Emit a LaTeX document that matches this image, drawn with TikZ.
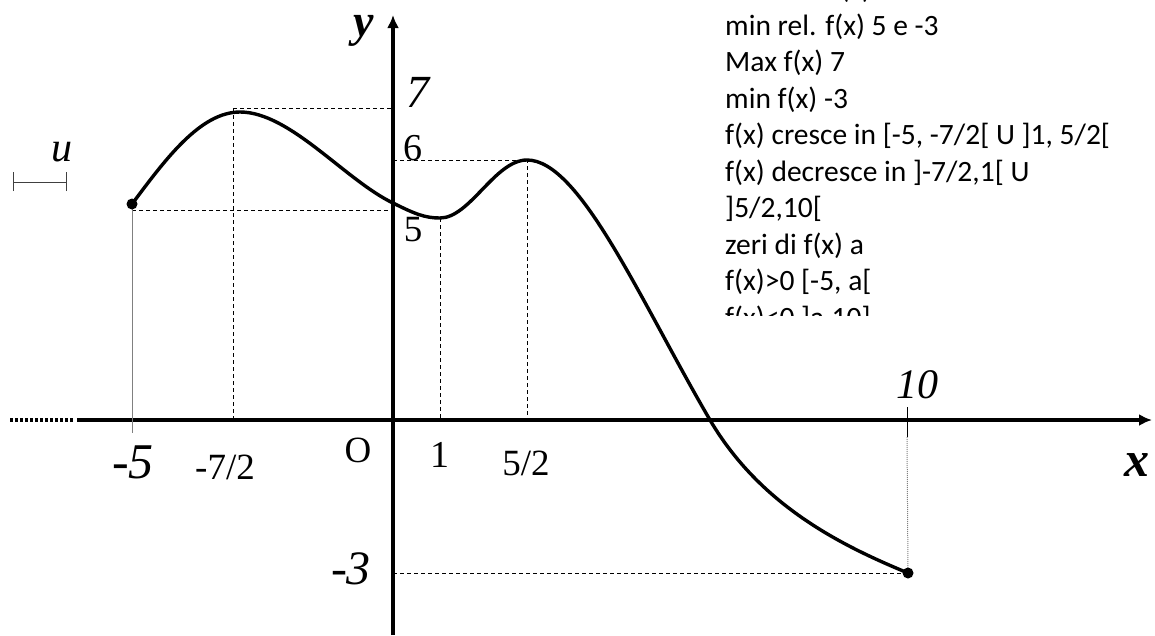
\documentclass[tikz,border=0pt]{standalone}
\usepackage{fontspec}
\setmainfont{Liberation Serif}
\newfontfamily\calib{Carlito}
\usetikzlibrary{arrows.meta}
\begin{document}
\begin{tikzpicture}[x=1pt,y=-1pt,
  axis/.style={line width=3.4pt,-{Latex[length=13pt,width=12pt]}},
  graph/.style={line width=3.4pt,line cap=round},
  guide/.style={line width=0.9pt,dash pattern=on 4pt off 3pt},
  thin/.style={line width=1pt},
  lbl/.style={inner sep=0pt,anchor=center},
  txt/.style={inner sep=0pt,anchor=base west,font=\calib\fontsize{29.5}{36}\selectfont},
  enddot/.style={circle,fill=black,inner sep=0pt,minimum size=11pt}]
\useasboundingbox (0,0) rectangle (1155,635);
% axes
\coordinate (xL) at (77,420);
\coordinate (xR) at (1152,420);
\coordinate (xD0) at (10,420);
\coordinate (xD1) at (74,420);
\coordinate (yB) at (393,635);
\coordinate (yT) at (393,15);
\draw[axis] (xL) -- (xR);
\draw[axis] (yB) -- (yT);
\draw[line width=3.4pt,dash pattern=on 3pt off 2pt] (xD0) -- (xD1);
% key points
\coordinate (A) at (132,204);
\coordinate (M1) at (240,112);
\coordinate (C1) at (393,203);
\coordinate (m1) at (440,218);
\coordinate (M2) at (527,160);
\coordinate (Z) at (710,420);
\coordinate (B) at (908,573);
% guides
\coordinate (g7a) at (233,108); \coordinate (g7b) at (393,108); \coordinate (g7c) at (233,420);
\coordinate (g5a) at (132,210); \coordinate (g5b) at (393,210);
\coordinate (g6a) at (393,160); \coordinate (g6b) at (527,160); \coordinate (g6c) at (527,420);
\coordinate (g1a) at (440,218); \coordinate (g1b) at (440,420);
\coordinate (g3a) at (393,573);
\draw[guide] (g7a) -- (g7b);
\draw[guide] (g7a) -- (g7c);
\draw[guide] (g5a) -- (g5b);
\draw[guide] (g6a) -- (g6b) -- (g6c);
\draw[guide] (g1a) -- (g1b);
\draw[guide] (g3a) -- (B);
\coordinate (t5b) at (132,433);
\draw[thin,gray] (A) -- (t5b);
\coordinate (t10a) at (907,407); \coordinate (t10b) at (907,437);
\draw[thin] (t10a) -- (t10b);
\draw[line width=1pt,gray,dash pattern=on 1pt off 1pt] (t10b) -- (B);
% unit
\coordinate (u1) at (13,182); \coordinate (u2) at (66,182);
\draw[thin,black!75] (u1) -- (u2);
\draw[thin,black!75] ([yshift=-9pt]u1) -- ([yshift=10pt]u1);
\draw[thin,black!75] ([yshift=-9pt]u2) -- ([yshift=10pt]u2);
% curve
\draw[graph] (A) .. controls (165,160) and (200,112) .. (M1)
  .. controls (290,112) and (345,180) .. (C1)
  .. controls (415,214) and (425,218) .. (m1)
  .. controls (470,218) and (495,160) .. (M2)
  .. controls (580,160) and (640,300) .. (Z)
  .. controls (760,505) and (840,545) .. (B);
\node[enddot] (dA) at (A) {};
\node[enddot] (dB) at (B) {};
% labels
\node[lbl,font=\fontsize{46}{46}\selectfont\bfseries\itshape] (ly) at (364,31) {y};
\node[lbl,font=\fontsize{46}{46}\selectfont\itshape] (l7) at (418,92) {7};
\node[lbl,font=\fontsize{38}{38}\selectfont] (l6) at (413,148) {6};
\node[lbl,font=\fontsize{37}{37}\selectfont] (l5) at (413,230) {5};
\node[lbl,font=\fontsize{37}{37}\selectfont] (lO) at (358,450) {O};
\node[lbl,font=\fontsize{38}{38}\selectfont] (l1) at (440,455) {1};
\node[lbl,font=\fontsize{37}{37}\selectfont] (l52) at (526,463) {5/2};
\node[lbl,font=\fontsize{37}{37}\selectfont] (l72) at (225,467) {-7/2};
\node[lbl,font=\fontsize{50}{50}\selectfont\itshape] (lm5) at (133,462) {-5};
\node[lbl,font=\fontsize{42}{42}\selectfont\itshape] (l10) at (917,385) {10};
\node[lbl,font=\fontsize{50}{50}\selectfont\bfseries\itshape] (lx) at (1137,465) {x};
\node[lbl,font=\fontsize{48}{48}\selectfont\itshape] (lm3) at (351,569) {-3};
\node[lbl,font=\fontsize{42}{42}\selectfont\itshape] (lu) at (62,152) {u};
% text block (clipped as in the reference)
\begin{scope}
\clip (715,0) rectangle (1155,315);
\node[txt] (t0) at (725,-1.5) {Max rel. f(x) 7 e 6};
\node[txt] (t1) at (725,35) {min rel. f(x) 5 e -3};
\node[txt] (t2) at (725,71.5) {Max f(x) 7};
\node[txt] (t3) at (725,108) {min f(x) -3};
\node[txt] (t4) at (725,144.5) {f(x) cresce in [-5, -7/2[ U ]1, 5/2[};
\node[txt] (t5) at (725,181) {f(x) decresce in ]-7/2,1[ U};
\node[txt] (t6) at (725,217.5) {]5/2,10[};
\node[txt] (t7) at (725,254) {zeri di f(x) a};
\node[txt] (t8) at (725,290.5) {f(x)>0 [-5, a[};
\node[txt] (t9) at (725,327) {f(x)<0 ]a,10]};
\end{scope}
\end{tikzpicture}
\end{document}
